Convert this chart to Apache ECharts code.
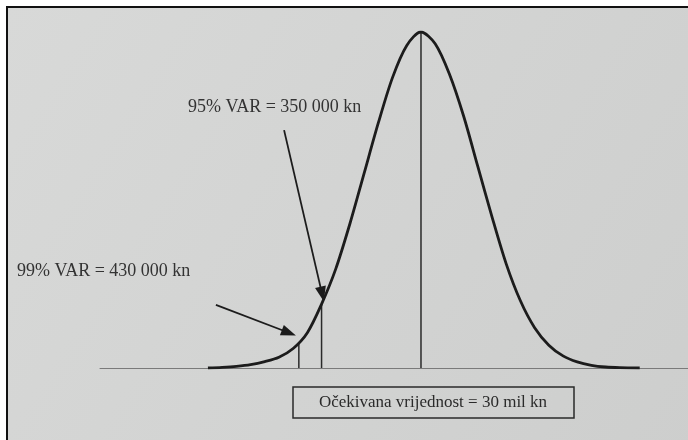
<!DOCTYPE html>
<html>
<head>
<meta charset="utf-8">
<script src="https://cdn.jsdelivr.net/npm/echarts@6/dist/echarts.min.js"></script>
<style>
  html, body { margin: 0; padding: 0; background: #fff; }
  #chart { width: 688px; height: 440px; }
</style>
</head>
<body>
<div id="chart"></div>
<script>
// curve: x in mil kn, y as % of the peak height
const curveX = [29.25, 29.30, 29.35, 29.40, 29.45, 29.50, 29.55, 29.60, 29.65, 29.70, 29.75, 29.80, 29.85, 29.90, 29.95, 30.00,
	30.05, 30.10, 30.15, 30.20, 30.25, 30.30, 30.35, 30.40, 30.45, 30.50, 30.55, 30.60, 30.65, 30.70, 30.77]
const curveY = [0, 0.2, 0.5, 1.0, 1.9, 3.2, 5.8, 10.5, 19.0, 29.5, 43.0, 58.0, 73.0, 86.5, 96.0, 100,
	96.5, 87.5, 75.0, 60.0, 45.0, 31.0, 20.0, 12.0, 6.8, 3.6, 1.8, 0.8, 0.3, 0.1, 0]

// vertical markers: 99% VaR, 95% VaR, expected value
const markerX = [29.57, 29.65, 30.0]
const markerTop = [7.5, 19.0, 100]

const labels = ['99% VAR = 430 000 kn', '95% VAR = 350 000 kn']
const expectedLabel = 'Očekivana vrijednost = 30 mil kn'

const serif = '"Liberation Serif", "DejaVu Serif", serif'
const ink = '#1c1c1c'

const chart = echarts.init(document.getElementById('chart'))

const markerSeries = markerX.map((x, i) => ({
	type: 'line',
	data: [[x, 0], [x, markerTop[i]]],
	symbol: 'none',
	silent: true,
	lineStyle: { color: '#2a2a2a', width: 1.5 },
	z: 3
}))

const option = {
	backgroundColor: '#ffffff',
	animation: false,
	grid: { left: 100, right: 0, top: 32, bottom: 72 },
	xAxis: {
		type: 'value',
		min: 28.87,
		max: 30.94,
		axisLine: { show: true, onZero: false, lineStyle: { color: '#7a7a7a', width: 1 } },
		axisTick: { show: false },
		axisLabel: { show: false },
		splitLine: { show: false }
	},
	yAxis: {
		type: 'value',
		min: 0,
		max: 100,
		show: false
	},
	graphic: [
		{
			type: 'rect',
			z: -10,
			shape: { x: 7, y: 7, width: 700, height: 440 },
			style: {
				fill: new echarts.graphic.LinearGradient(0, 0, 1, 1, [
					{ offset: 0, color: '#d8d9d8' },
					{ offset: 1, color: '#cdcecd' }
				]),
				stroke: '#111',
				lineWidth: 2
			}
		},
		{
			type: 'text',
			left: 17,
			top: 262,
			style: { text: labels[0], font: '18px ' + serif, fill: '#333' }
		},
		{
			type: 'text',
			left: 188,
			top: 98,
			style: { text: labels[1], font: '18px ' + serif, fill: '#333' }
		},
		{
			type: 'rect',
			shape: { x: 293, y: 387, width: 281, height: 31 },
			style: { fill: 'transparent', stroke: '#2a2a2a', lineWidth: 1.5 }
		},
		{
			type: 'text',
			x: 433,
			y: 403,
			style: {
				text: expectedLabel,
				font: '17px ' + serif,
				fill: '#2a2a2a',
				align: 'center',
				verticalAlign: 'middle'
			}
		}
	],
	series: [
		{
			type: 'line',
			data: curveX.map((x, i) => [x, curveY[i]]),
			symbol: 'none',
			smooth: 0.3,
			lineStyle: { color: ink, width: 2.8 },
			z: 4,
			markLine: {
				silent: true,
				symbol: ['none', 'triangle'],
				symbolSize: [11, 15],
				label: { show: false },
				lineStyle: { color: ink, width: 1.8, type: 'solid' },
				data: [
					[{ coord: [29.278, 18.8] }, { coord: [29.535, 10.5] }],
					[{ coord: [29.518, 70.8] }, { coord: [29.652, 22.0] }]
				]
			}
		},
		...markerSeries
	]
}

chart.setOption(option)
</script>
</body>
</html>
